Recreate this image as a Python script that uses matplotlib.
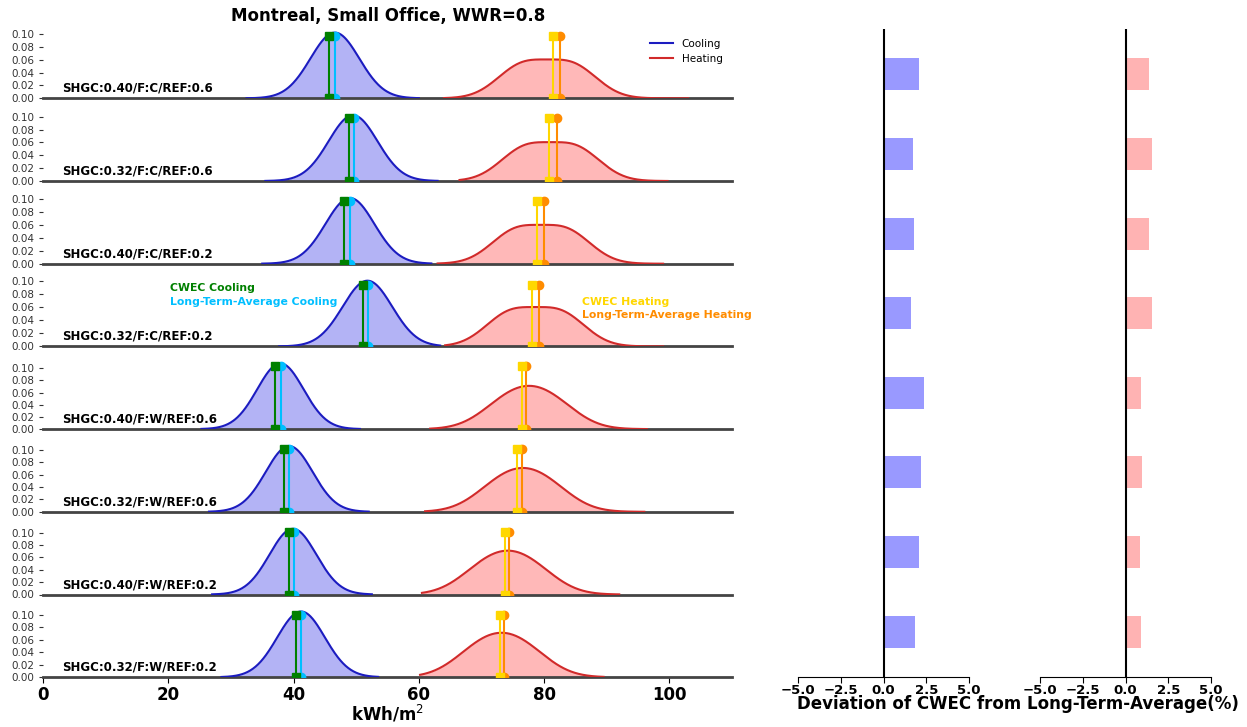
import matplotlib
matplotlib.use('Agg')
import matplotlib.pyplot as plt
import numpy as np
from matplotlib.ticker import FormatStrFormatter

# case labels, top row first
row_labels = ['SHGC:0.40/F:C/REF:0.6', 'SHGC:0.32/F:C/REF:0.6',
              'SHGC:0.40/F:C/REF:0.2', 'SHGC:0.32/F:C/REF:0.2',
              'SHGC:0.40/F:W/REF:0.6', 'SHGC:0.32/F:W/REF:0.6',
              'SHGC:0.40/F:W/REF:0.2', 'SHGC:0.32/F:W/REF:0.2']

# cooling distribution (normal), kWh/m2
cool_mean = [46.6, 49.5, 49.0, 51.8, 37.9, 39.3, 39.9, 41.2]
cool_sd = [3.9, 3.9, 3.9, 3.95, 3.7, 3.75, 3.75, 3.8]
cool_lo = [32.5, 35.5, 35.0, 37.7, 25.3, 26.5, 27.0, 28.5]
cool_hi = [60.0, 63.0, 62.0, 63.4, 50.6, 52.0, 52.5, 53.5]

# heating distribution (flat topped: two overlapping normals)
heat_mean = [80.5, 81.0, 79.5, 78.6, 77.6, 76.6, 74.2, 73.2]
heat_sd = [4.0, 4.0, 4.0, 4.0, 4.5, 4.5, 4.5, 4.5]
heat_sep = [4.0, 4.0, 4.0, 4.0, 3.0, 3.0, 3.0, 3.0]
heat_lo = [64.0, 66.5, 63.0, 64.2, 61.8, 61.0, 60.5, 60.2]
heat_hi = [103.0, 99.7, 99.0, 99.0, 96.4, 96.0, 92.0, 89.5]

# CWEC and long-term-average annual loads
cwec_cool = [45.7, 48.8, 48.1, 51.1, 37.1, 38.5, 39.2, 40.4]
lta_cool = [46.65, 49.65, 48.97, 51.9, 37.97, 39.34, 40.0, 41.15]
cwec_heat = [81.5, 80.8, 78.9, 78.0, 76.4, 75.7, 73.8, 73.0]
lta_heat = [82.6, 82.06, 80.0, 79.2, 77.07, 76.44, 74.42, 73.67]
stem_top = [0.097, 0.098, 0.097, 0.095, 0.104, 0.102, 0.101, 0.100]

# deviation of CWEC from long-term average (%)
dev_cool = [2.08, 1.75, 1.81, 1.58, 2.35, 2.17, 2.08, 1.86]
dev_heat = [1.39, 1.56, 1.39, 1.56, 0.88, 0.98, 0.84, 0.92]


def normal_pdf(x, mu, sd):
    return np.exp(-0.5 * ((x - mu) / sd) ** 2) / (sd * np.sqrt(2 * np.pi))


W, H = 1247, 727
fig = plt.figure(figsize=(W / 100, H / 100), dpi=100)

n = len(row_labels)
left_px, right_px = 43, 732
row_h = 69
axes = []
for i in range(n):
    bottom_px = 98.3 + 82.7 * i
    ax = fig.add_axes([left_px / W, 1 - bottom_px / H, (right_px - left_px) / W, row_h / H])
    axes.append(ax)

    xc = np.linspace(cool_lo[i], cool_hi[i], 300)
    yc = normal_pdf(xc, cool_mean[i], cool_sd[i])
    xh = np.linspace(heat_lo[i], heat_hi[i], 300)
    yh = 0.5 * (normal_pdf(xh, heat_mean[i] - heat_sep[i], heat_sd[i]) +
                normal_pdf(xh, heat_mean[i] + heat_sep[i], heat_sd[i]))

    ax.fill_between(xc, 0, yc, color='#b3b3f5', lw=0)
    ax.fill_between(xh, 0, yh, color='#ffb8b8', lw=0)
    ax.plot(xc, yc, color='#1c1cc0', lw=1.5, label='Cooling', zorder=3)
    ax.plot(xh, yh, color='#d12a2a', lw=1.5, label='Heating', zorder=3)

    h = stem_top[i]
    ax.plot([lta_cool[i]] * 2, [0, h], color='deepskyblue', lw=1.5, marker='o', ms=6, zorder=3)
    ax.plot([cwec_cool[i]] * 2, [0, h], color='green', lw=1.5, marker='s', ms=6, zorder=3)
    ax.plot([lta_heat[i]] * 2, [0, h], color='darkorange', lw=1.5, marker='o', ms=6, zorder=3)
    ax.plot([cwec_heat[i]] * 2, [0, h], color='gold', lw=1.5, marker='s', ms=6, zorder=3)

    ax.set_xlim(0, 110)
    ax.set_ylim(0, 1.05 * max(yc.max(), yh.max()))
    ax.set_yticks([0, 0.02, 0.04, 0.06, 0.08, 0.10])
    ax.yaxis.set_major_formatter(FormatStrFormatter('%.2f'))
    ax.tick_params(axis='y', labelsize=7.5, length=3, colors='#333333')
    for s in ['top', 'right', 'left']:
        ax.spines[s].set_visible(False)
    ax.spines['bottom'].set_color('#444444')
    ax.spines['bottom'].set_linewidth(2)

    ax.text(0.028, 0.05, row_labels[i], transform=ax.transAxes, fontsize=8.5,
            fontweight='bold', va='bottom', ha='left')

    if i < n - 1:
        ax.tick_params(axis='x', length=0, labelbottom=False)
    else:
        ax.set_xticks([0, 20, 40, 60, 80, 100])
        ax.tick_params(axis='x', labelsize=12, length=4, pad=2)
        for t in ax.get_xticklabels():
            t.set_fontweight('bold')
        ax.set_xlabel('kWh/m$^2$', fontsize=12, fontweight='bold', labelpad=0)

axes[0].legend(loc='upper right', frameon=False, fontsize=7.5, handlelength=2.2,
               bbox_to_anchor=(1.0, 1.0))

# labels for the vertical markers
ax4 = axes[3]
ax4.text(20.3, 0.089, 'CWEC Cooling', color='green', fontsize=7.8, fontweight='bold', va='center')
ax4.text(20.3, 0.069, 'Long-Term-Average Cooling', color='deepskyblue', fontsize=7.8,
         fontweight='bold', va='center')
ax4.text(86.0, 0.069, 'CWEC Heating', color='gold', fontsize=7.8, fontweight='bold', va='center')
ax4.text(86.0, 0.049, 'Long-Term-Average Heating', color='darkorange', fontsize=7.8,
         fontweight='bold', va='center')

fig.text(388 / W, 1 - 16 / H, 'Montreal, Small Office, WWR=0.8', fontsize=12,
         fontweight='bold', ha='center', va='center')

# deviation bar charts
pos = np.arange(n)[::-1]
bar_specs = [(798, dev_cool, '#9999ff'), (1040, dev_heat, '#ffb3b3')]
for x0, vals, col in bar_specs:
    bax = fig.add_axes([x0 / W, 1 - 677 / H, 171 / W, 648 / H])
    bax.barh(pos, vals, height=0.4, color=col)
    bax.axvline(0, color='black', lw=1.5)
    bax.set_xlim(-5, 5)
    bax.set_xticks([-5, -2.5, 0, 2.5, 5])
    bax.set_yticks([])
    for s in ['top', 'right', 'left']:
        bax.spines[s].set_visible(False)
    bax.tick_params(axis='x', labelsize=9.5, length=4, pad=1)
    for t in bax.get_xticklabels():
        t.set_fontweight('bold')

fig.text(1018 / W, 1 - 704 / H, 'Deviation of CWEC from Long-Term-Average(%)', fontsize=12,
         fontweight='bold', ha='center', va='center')

fig.savefig('out.png', dpi=100)
